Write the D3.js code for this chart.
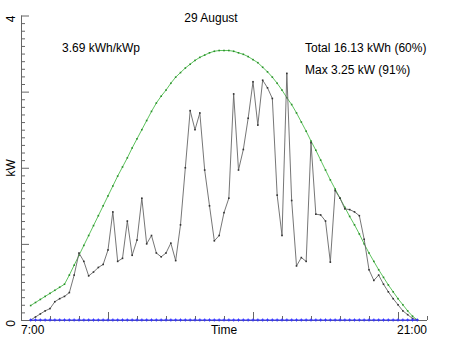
<!DOCTYPE html>
<html><head><meta charset="utf-8">
<script src="https://cdn.jsdelivr.net/npm/d3@7/dist/d3.min.js"></script>
<style>
html,body{margin:0;padding:0;background:#fff;}
svg{display:block;font-family:"Liberation Sans",Arial,Helvetica,sans-serif;}
</style></head>
<body><svg id="c" width="452" height="339"></svg>
<script>
const title = "29 August";
const yieldText = "3.69 kWh/kWp";
const totalText = "Total 16.13 kWh (60%)";
const maxText = "Max 3.25 kW (91%)";
const xTitle = "Time";
const yTitle = "kW";
const xTickLabels = ["7:00", "21:00"];
const yTickLabels = ["0", "4"];

const times = ["7:20","7:30","7:40","7:50","8:00","8:10","8:20","8:30","8:40","8:50",
"9:00","9:10","9:20","9:30","9:40","9:50","10:00","10:10","10:20","10:30",
"10:40","10:50","11:00","11:10","11:20","11:30","11:40","11:50","12:00","12:10",
"12:20","12:30","12:40","12:50","13:00","13:10","13:20","13:30","13:40","13:50",
"14:00","14:10","14:20","14:30","14:40","14:50","15:00","15:10","15:20","15:30",
"15:40","15:50","16:00","16:10","16:20","16:30","16:40","16:50","17:00","17:10",
"17:20","17:30","17:40","17:50","18:00","18:10","18:20","18:30","18:40","18:50",
"19:00","19:10","19:20","19:30","19:40","19:50","20:00","20:10","20:20","20:30","20:40"];

const power = [0.00,0.04,0.08,0.12,0.15,0.24,0.28,0.31,0.36,0.59,
0.88,0.77,0.58,0.63,0.69,0.73,0.92,1.42,0.77,0.81,
1.30,0.85,1.05,1.60,1.00,1.11,0.88,0.83,0.88,1.01,
0.78,1.25,2.00,2.75,2.50,2.72,1.97,1.50,1.04,1.11,
1.41,1.60,2.97,1.97,2.24,2.65,3.13,2.56,3.15,3.05,
2.91,1.64,1.11,3.24,1.57,0.71,0.82,0.77,2.33,1.39,
1.38,1.30,0.76,1.70,1.60,1.46,1.45,1.42,1.37,1.06,
0.66,0.52,0.59,0.47,0.37,0.28,0.20,0.12,0.07,0.02,0.00];

const clearSky = [0.19,0.23,0.27,0.31,0.35,0.39,0.43,0.47,0.59,0.72,
0.85,0.98,1.11,1.24,1.37,1.50,1.63,1.76,1.89,2.01,
2.13,2.26,2.38,2.50,2.62,2.74,2.85,2.94,3.02,3.11,
3.19,3.25,3.31,3.36,3.41,3.45,3.48,3.51,3.53,3.54,
3.54,3.54,3.53,3.51,3.49,3.46,3.42,3.38,3.32,3.26,
3.19,3.11,3.02,2.92,2.83,2.72,2.60,2.48,2.35,2.23,
2.10,1.97,1.84,1.72,1.60,1.48,1.36,1.25,1.13,1.00,
0.88,0.77,0.66,0.56,0.46,0.37,0.28,0.20,0.12,0.05,0.00];

const baseline = [0,0,0,0,0,0,0,0,0,0, 0,0,0,0,0,0,0,0,0,0,
0,0,0,0,0,0,0,0,0,0, 0,0,0,0,0,0,0,0,0,0,
0,0,0,0,0,0,0,0,0,0, 0,0,0,0,0,0,0,0,0,0,
0,0,0,0,0,0,0,0,0,0, 0,0,0,0,0,0,0,0,0,0,0];

const xMinorTicks = [8,9,11,12,13,14,16,17,18,19,21];
const xMajorTicks = [10,15,20];
const yMinorTicks = [0.1,0.2,0.3,0.4,0.5,0.6,0.7,0.8,0.9,1.1,1.2,1.3,1.4,1.5,1.6,1.7,1.8,1.9,2.1,2.2,2.3,2.4,2.5,2.6,2.7,2.8,2.9,3.1,3.2,3.3,3.4,3.5,3.6,3.7,3.8,3.9];
const yMajorTicks = [0,1,2,3,4];

function toHours(s){const p=s.split(":");return +p[0]+(+p[1])/60;}

const svg = d3.select("#c");
const x = d3.scaleLinear().domain([7,21]).range([21,427]);
const y = d3.scaleLinear().domain([0,4]).range([320,15.5]);
const axisColor = "#666";

// axes
const gx = svg.append("g").attr("transform","translate(0,320)");
gx.call(d3.axisBottom(x).tickValues(xMinorTicks).tickSize(-4).tickFormat(""));
const gx2 = svg.append("g").attr("transform","translate(0,320)");
gx2.call(d3.axisBottom(x).tickValues(xMajorTicks).tickSize(-8).tickFormat(""));
gx2.select(".domain").remove();
const gy = svg.append("g").attr("transform","translate(21,0)");
gy.call(d3.axisLeft(y).tickValues(yMinorTicks).tickSize(-4).tickFormat(""));
const gy2 = svg.append("g").attr("transform","translate(21,0)");
gy2.call(d3.axisLeft(y).tickValues(yMajorTicks).tickSize(-8).tickFormat(""));
gy2.select(".domain").remove();
svg.selectAll(".domain").attr("stroke",axisColor).attr("d", function(){
  return d3.select(this.parentNode).attr("transform")==="translate(0,320)"
    ? "M21,0.5H427" : "M0.5,320V15.5";
});
svg.selectAll(".tick line").attr("stroke",axisColor);

// labels
const txt = (t,xx,yy,anchor)=>svg.append("text").attr("x",xx).attr("y",yy)
  .attr("text-anchor",anchor).attr("font-size",12).attr("fill","#000").text(t);
txt(xTickLabels[0], x(7), 334, "start");
txt(xTickLabels[1], x(21), 334, "end");
txt(xTitle, (x(7)+x(21))/2, 334, "middle");
svg.append("text").attr("transform",`translate(15,${y(0)}) rotate(-90)`)
  .attr("text-anchor","end").attr("font-size",12).text(yTickLabels[0]);
svg.append("text").attr("transform",`translate(15,${y(4)}) rotate(-90)`)
  .attr("text-anchor","end").attr("font-size",12).text(yTickLabels[1]);
svg.append("text").attr("transform",`translate(15,${y(2)}) rotate(-90)`)
  .attr("text-anchor","middle").attr("font-size",12).text(yTitle);
txt(title, 211, 22, "middle");
txt(yieldText, 62, 52, "start");
txt(totalText, 305, 52, "start");
txt(maxText, 305, 74, "start");

// series
function drawSeries(vals, color, dotColor, kind){
  const pts = times.map((t,i)=>[x(toHours(t)), y(vals[i])]);
  svg.append("path").datum(pts).attr("fill","none").attr("stroke",color)
    .attr("stroke-width",0.9).attr("d", d3.line());
  const g = svg.append("g");
  if(kind==="plus"){
    pts.forEach(p=>{
      g.append("path").attr("d",`M${p[0]-1.5},${p[1]}H${p[0]+1.5}M${p[0]},${p[1]-1.5}V${p[1]+1.5}`)
        .attr("stroke",dotColor).attr("stroke-width",1);
    });
  } else {
    g.selectAll("rect").data(pts).join("rect")
      .attr("x",p=>p[0]-0.8).attr("y",p=>p[1]-0.8).attr("width",1.6).attr("height",1.6)
      .attr("fill",dotColor);
  }
}
drawSeries(clearSky, "#4cbb4c", "#2a8f2a", "dot");
drawSeries(power, "#666", "#333", "dot");
drawSeries(baseline, "#3333ff", "#3333ff", "plus");
</script></body></html>
